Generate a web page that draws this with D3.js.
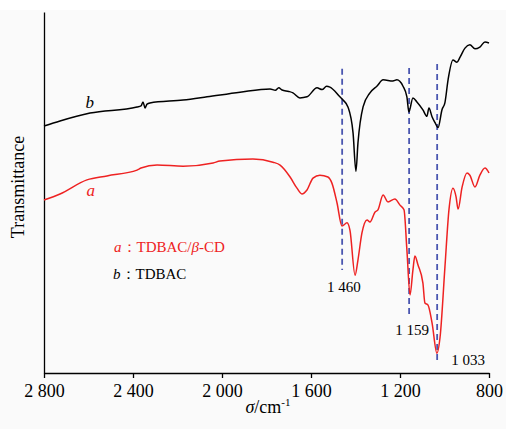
<!DOCTYPE html>
<html><head><meta charset="utf-8">
<script src="https://cdn.jsdelivr.net/npm/d3@7"></script>
<style>body{margin:0;background:#fafafa}svg{display:block}</style>
</head><body><svg id="c" width="506" height="429"></svg>
<script>
// Wavenumbers (cm^-1) and relative transmittance (arbitrary units)
const wnB = [2800,2728,2593,2382,2364,2355,2346,2337,2324,2175,2067,1919,1784,1760,1745,1730,1700,1681,1650,1618,1573,1550,1530,1515,1470,1456,1434,1411,1398,1389,1366,1335,1303,1276,1232,1214,1187,1169,1160,1142,1124,1097,1079,1070,1056,1043,1029,1011,998,984,962,944,930,908,886,863,841,818,800];
const tB  = [68.4,69.8,72.0,73.7,74.0,75.1,73.4,74.5,74.8,75.6,76.5,77.8,78.7,78.3,79.0,78.4,78.0,77.6,76.2,76.5,79.0,78.5,79.4,79.2,76.5,75.6,73.7,66.5,55.9,63.7,73.7,77.6,79.5,81.2,80.9,81.2,79.5,76.5,72.3,76.2,75.1,72.9,71.1,73.4,71.0,69.4,68.0,73.0,74.9,81.2,86.7,86.1,87.5,90.0,90.9,89.8,90.3,91.7,91.4];
const wnA = [2800,2728,2607,2517,2382,2373,2364,2292,2175,2040,2009,1861,1771,1739,1694,1663,1641,1618,1591,1560,1524,1506,1483,1461,1438,1425,1402,1389,1371,1348,1335,1312,1299,1276,1254,1223,1200,1182,1169,1155,1142,1133,1119,1097,1088,1074,1056,1034,1020,998,980,962,948,939,921,899,886,863,841,818,800];
const tA  = [47.9,49.6,53.5,54.6,56.2,56.5,56.8,57.6,57.3,58.2,58.7,59.3,58.4,57.6,54.3,51.2,49.6,50.7,54.0,54.8,54.3,52.6,47.1,40.7,41.6,39.6,27.1,31.3,38.8,42.4,41.8,44.6,45.2,49.3,47.4,48.2,46.5,45.2,34.1,21.6,28.5,32.4,29.9,24.9,19.4,18.8,13.9,5.5,9.9,29.4,45.2,51.2,48.8,45.4,51.5,55.4,54.8,51.5,54.8,56.8,55.4];
const xTicks = [2800,2400,2000,1600,1200,800];
const xTickLabels = ["2 800","2 400","2 000","1 600","1 200","800"];
const markWn = [1460,1159,1033];
const markLabels = ["1 460","1 159","1 033"];
const markTop = [84.3,84.5,85.6];
const markBottom = [28.5,16.1,2.8];
const markLabelPos = [[1452,22.4],[1146,10.5],[894,2.2]];

const svg = d3.select("#c");
svg.append("rect").attr("width",506).attr("height",10).attr("fill","#ffffff");
const x = d3.scaleLinear().domain([2800,800]).range([44,489]);
const y = d3.scaleLinear().domain([0,100]).range([373,12]);
const serif = "'Liberation Serif','Times New Roman',serif";

// axes
const xa = svg.append("g").attr("transform","translate(0,373)")
  .call(d3.axisBottom(x).tickValues(xTicks).tickFormat((d,i)=>xTickLabels[i]).tickSize(5).tickSizeOuter(0));
xa.select(".domain").attr("stroke","#000").attr("stroke-width",1.3);
xa.selectAll(".tick line").attr("stroke","#000").attr("stroke-width",1.3);
xa.selectAll(".tick text").attr("font-family",serif).attr("font-size",18).attr("fill","#000").attr("dy","0.9em");
const ya = svg.append("g").attr("transform","translate(44,0)")
  .call(d3.axisLeft(y).tickValues([]).tickSizeOuter(0));
ya.select(".domain").attr("stroke","#000").attr("stroke-width",1.3);

// axis titles
const xt = svg.append("text").attr("x",268).attr("y",413).attr("text-anchor","middle")
  .attr("font-family",serif).attr("font-size",18).attr("fill","#000");
xt.append("tspan").attr("font-style","italic").text("σ");
xt.append("tspan").text("/cm");
xt.append("tspan").attr("font-size",11).attr("dy",-7).text("-1");
svg.append("text").attr("transform","translate(24,187) rotate(-90)").attr("text-anchor","middle")
  .attr("font-family",serif).attr("font-size",18).attr("fill","#000").text("Transmittance");

// dashed marker lines
markWn.forEach((w,i)=>{
  svg.append("line").attr("x1",x(w)).attr("x2",x(w)).attr("y1",y(markTop[i])).attr("y2",y(markBottom[i]))
    .attr("stroke","#4a56b0").attr("stroke-width",1.8).attr("stroke-dasharray","6,4");
  svg.append("text").attr("x",x(markLabelPos[i][0])).attr("y",y(markLabelPos[i][1])).attr("text-anchor","middle")
    .attr("font-family",serif).attr("font-size",15).attr("fill","#000").text(markLabels[i]);
});

const line = d3.line().x(d=>x(d[0])).y(d=>y(d[1])).curve(d3.curveMonotoneX);
svg.append("path").datum(d3.zip(wnB,tB)).attr("d",line).attr("fill","none").attr("stroke","#000").attr("stroke-width",1.5);
svg.append("path").datum(d3.zip(wnA,tA)).attr("d",line).attr("fill","none").attr("stroke","#ee2222").attr("stroke-width",1.5);

// curve labels
svg.append("text").attr("x",x(2594)).attr("y",y(73.4)).attr("text-anchor","middle").attr("font-family",serif)
  .attr("font-style","italic").attr("font-size",17).attr("fill","#000").text("b");
svg.append("text").attr("x",x(2590)).attr("y",y(49)).attr("text-anchor","middle").attr("font-family",serif)
  .attr("font-style","italic").attr("font-size",17).attr("fill","#ee2222").text("a");

// legend
const lg1 = svg.append("text").attr("x",114).attr("y",252).attr("font-family",serif).attr("font-size",15).attr("fill","#ee2222");
lg1.append("tspan").attr("font-style","italic").text("a");
lg1.append("tspan").text("：TDBAC/");
lg1.append("tspan").attr("font-style","italic").text("β");
lg1.append("tspan").text("-CD");
const lg2 = svg.append("text").attr("x",113).attr("y",279).attr("font-family",serif).attr("font-size",15).attr("fill","#000");
lg2.append("tspan").attr("font-style","italic").text("b");
lg2.append("tspan").text("：TDBAC");
</script></body></html>
